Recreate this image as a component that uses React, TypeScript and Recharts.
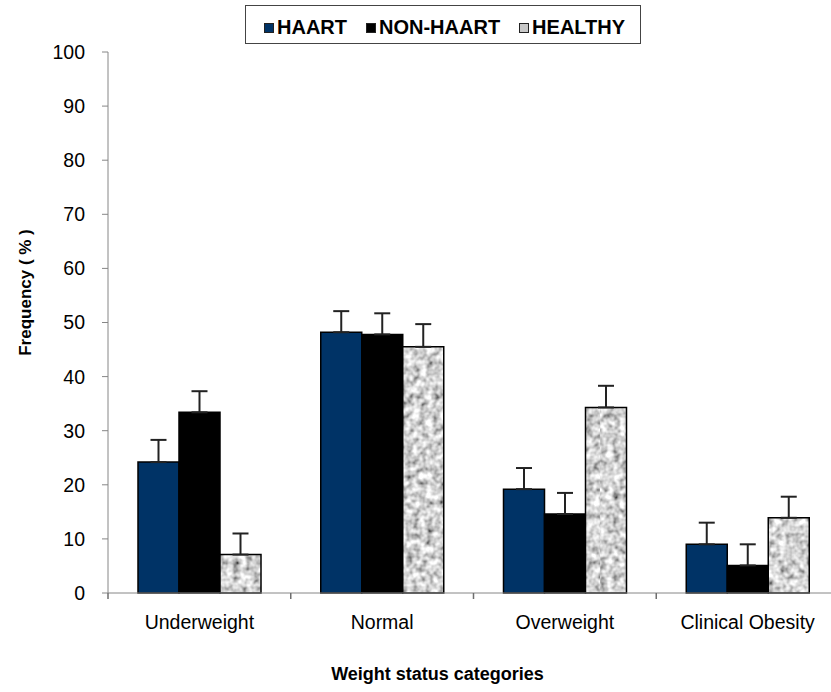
import { BarChart, Bar, XAxis, YAxis, ErrorBar } from "recharts";

const categories = ["Underweight", "Normal", "Overweight", "Clinical Obesity"];
const haart = [24.2, 48.2, 19.2, 9.0];
const haartErr = [4.1, 3.9, 3.9, 4.0];
const nonHaart = [33.4, 47.8, 14.6, 5.1];
const nonHaartErr = [3.9, 3.9, 3.9, 3.9];
const healthy = [7.1, 45.5, 34.3, 13.9];
const healthyErr = [3.9, 4.2, 4.0, 3.9];
const yTicks = [0, 10, 20, 30, 40, 50, 60, 70, 80, 90, 100];

const data = categories.map((name, i) => ({
  name,
  haart: haart[i],
  nonHaart: nonHaart[i],
  healthy: healthy[i],
  haartErr: [0, haartErr[i]],
  nonHaartErr: [0, nonHaartErr[i]],
  healthyErr: [0, healthyErr[i]],
}));

const font = "'Liberation Sans', Arial, sans-serif";
const axisGray = "#868686";
const navy = "#003366";

const chartW = 840;
const margin = { top: 52, right: 1, bottom: 0, left: 0 };
const yAxisW = 108;
const bandHalf = (chartW - margin.left - margin.right - yAxisW) / categories.length / 2;

// category label plus Excel-style tick marks between the categories
function CategoryTick(props: any) {
  const x = Number(props.x);
  const y = Number(props.y);
  const { payload, index } = props;
  const last = index === categories.length - 1;
  const lx = x - bandHalf;
  return (
    <g>
      <path d={`M${lx},${y}V${y + 6}`} stroke="#6e6e6e" strokeWidth={1.5} fill="none" />
      {last && <path d={`M${x + bandHalf},${y}V${y + 6}`} stroke="#6e6e6e" strokeWidth={1.5} fill="none" />}
      <text x={x} y={y + 22} dy="0.71em" textAnchor="middle" fontSize={19.5} fill="#000" fontFamily={font}>
        {payload.value}
      </text>
    </g>
  );
}

function LegendBox() {
  const items = [
    { label: "HAART", fill: navy },
    { label: "NON-HAART", fill: "#000" },
    { label: "HEALTHY", fill: "#c8c8c8" },
  ];
  return (
    <div
      style={{
        position: "absolute", left: 245, top: 5, width: 396, height: 39,
        border: "1px solid #444", background: "#fff", display: "flex",
        alignItems: "center", paddingLeft: 18, paddingTop: 6, boxSizing: "border-box",
        fontFamily: font, fontWeight: "bold", fontSize: 20, color: "#000", whiteSpace: "nowrap",
      }}
    >
      {items.map((it) => (
        <div key={it.label} style={{ display: "flex", alignItems: "center", marginRight: 19 }}>
          <span style={{ display: "inline-block", width: 8, height: 8, background: it.fill, border: "1px solid #222", marginRight: 3 }} />
          <span>{it.label}</span>
        </div>
      ))}
    </div>
  );
}

export default function App() {
  return (
    <div style={{ position: "absolute", left: 0, top: 0, width: 831, height: 692, overflow: "hidden", background: "#fff", fontFamily: font }}>
      <BarChart
        width={chartW}
        height={692}
        data={data}
        margin={margin}
        barCategoryGap={30}
        barGap={0}
      >
        <defs>
          <filter id="noiseFilter" x="0" y="0" width="100%" height="100%">
            <feTurbulence type="fractalNoise" baseFrequency="0.15" numOctaves={2} seed={4} />
            <feColorMatrix type="matrix" values="1.5 0 0 0 -0.1  1.5 0 0 0 -0.1  1.5 0 0 0 -0.1  0 0 0 0 1" />
          </filter>
          <pattern id="noise" patternUnits="userSpaceOnUse" width={300} height={300}>
            <rect width={300} height={300} fill="#b0b0b0" filter="url(#noiseFilter)" />
          </pattern>
        </defs>
        <XAxis
          dataKey="name"
          height={99}
          stroke={axisGray}
          tickLine={false}
          tickSize={0}
          tickMargin={0}
          tick={<CategoryTick />}
          interval={0}
          label={{ value: "Weight status categories", position: "center", dx: -36, dy: 31, fontSize: 18, fontWeight: "bold", fill: "#000", fontFamily: font }}
        />
        <YAxis
          width={yAxisW}
          domain={[0, 100]}
          ticks={yTicks}
          interval={0}
          stroke={axisGray}
          tickSize={6}
          tickMargin={17}
          tick={{ fontSize: 19.5, fill: "#000", fontFamily: font }}
          label={{ value: "Frequency ( % )", angle: -90, position: "center", dx: -29, dy: -30, fontSize: 17, fontWeight: "bold", fill: "#000", fontFamily: font }}
        />
        <Bar dataKey="haart" name="HAART" fill={navy} stroke="#000" strokeWidth={1.5} isAnimationActive={false}>
          <ErrorBar dataKey="haartErr" width={8} stroke="#222" strokeWidth={2} direction="y" />
        </Bar>
        <Bar dataKey="nonHaart" name="NON-HAART" fill="#000" stroke="#000" strokeWidth={1.5} isAnimationActive={false}>
          <ErrorBar dataKey="nonHaartErr" width={8} stroke="#222" strokeWidth={2} direction="y" />
        </Bar>
        <Bar dataKey="healthy" name="HEALTHY" fill="url(#noise)" stroke="#000" strokeWidth={1.5} isAnimationActive={false}>
          <ErrorBar dataKey="healthyErr" width={8} stroke="#222" strokeWidth={2} direction="y" />
        </Bar>
      </BarChart>
      <LegendBox />
    </div>
  );
}
